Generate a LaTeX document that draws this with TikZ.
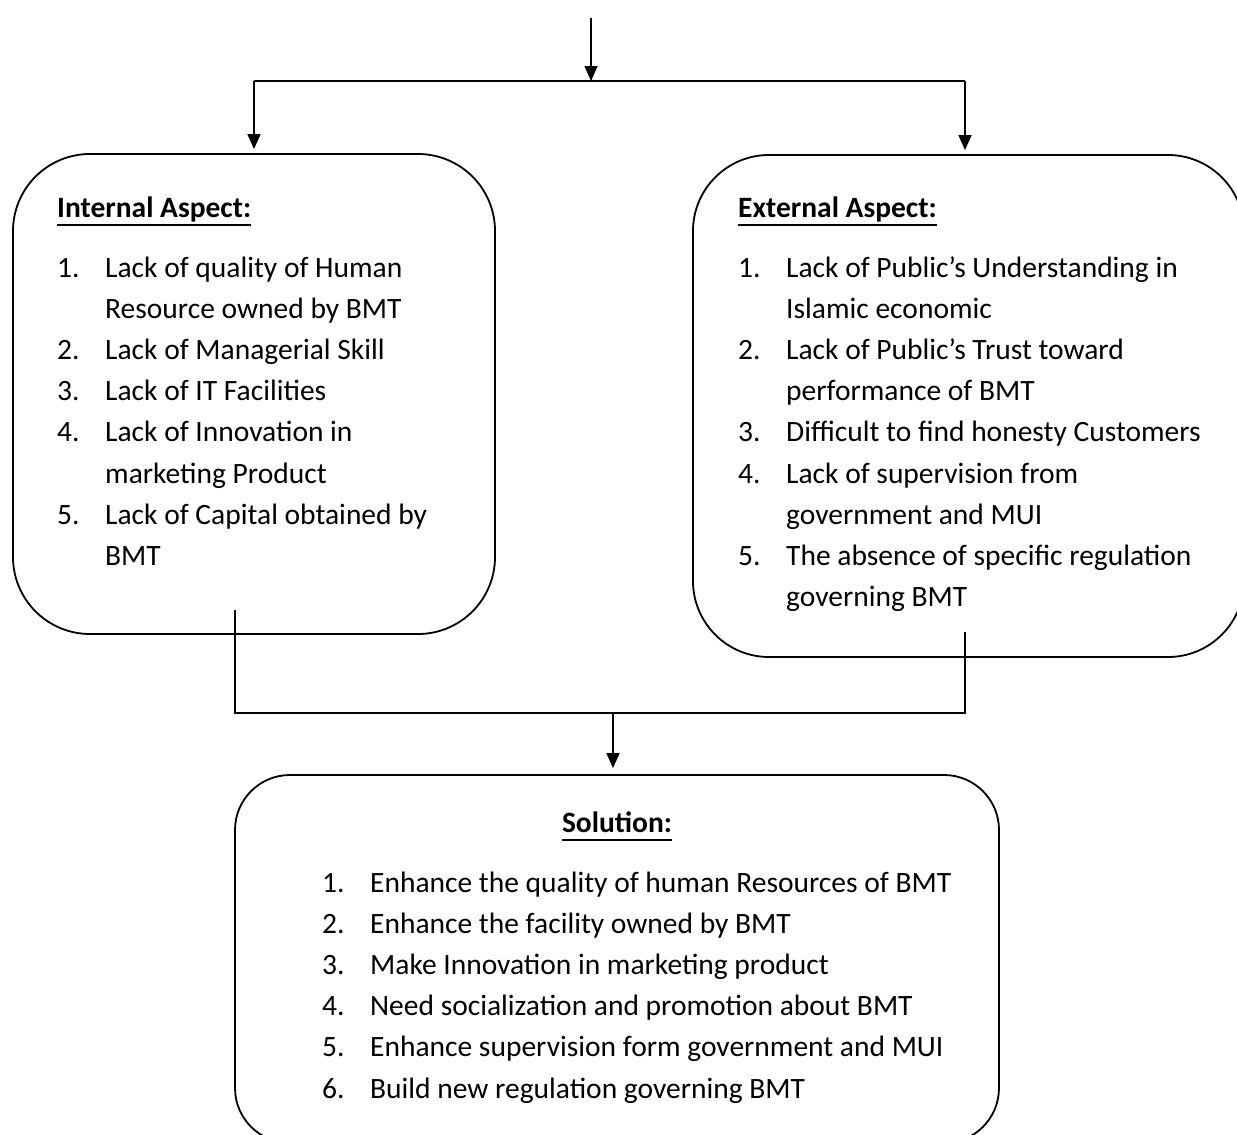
\documentclass[tikz,border=0pt]{standalone}
\usepackage{fontspec}
\setmainfont{Carlito}
\usetikzlibrary{arrows.meta}
\newcommand{\itm}[2]{\makebox[48pt][l]{#1}#2}
\newcommand{\cnt}[1]{\hspace*{48pt}#1}
\newcommand{\ulhead}[1]{\setbox0\hbox{\bfseries #1}\rlap{\rule[-9pt]{\wd0}{2pt}}\box0}
\begin{document}
\begin{tikzpicture}[x=1pt,y=-1pt,
  box/.style={draw, line width=1.8pt, inner sep=0pt},
  txt/.style={font=\fontsize{29.5}{41.2}\selectfont, align=left, inner sep=0pt, anchor=base west},
  head/.style={font=\fontsize{29.5}{41.2}\selectfont, inner sep=0pt},
  conn/.style={line width=1.5pt},
  arr/.style={line width=1.5pt, -{Triangle[length=15pt,width=13pt]}}]
\useasboundingbox (0,0) rectangle (1237,1135);
\clip (0,0) rectangle (1237,1135);
% boxes
\node[box, minimum width=482pt, minimum height=480pt, rounded corners=77pt] (inner) at (254,394) {};
\node[box, minimum width=551pt, minimum height=502pt, rounded corners=76pt] (outer) at (968.5,406) {};
\node[box, minimum width=764pt, minimum height=368pt, rounded corners=55pt] (sol) at (617,959) {};
% headings
\node[head, anchor=base west] (ih) at (57,217) {\ulhead{Internal Aspect:}};
\node[head, anchor=base west] (eh) at (738,217) {\ulhead{External Aspect:}};
\node[head, anchor=base] (sh) at (617,832) {\ulhead{Solution:}};
% lists (base anchor = baseline of last line)
\node[txt] (il) at (57,565.4) {\itm{1.}{Lack of quality of Human}\\
\cnt{Resource owned by BMT}\\
\itm{2.}{Lack of Managerial Skill}\\
\itm{3.}{Lack of IT Facilities}\\
\itm{4.}{Lack of Innovation in}\\
\cnt{marketing Product}\\
\itm{5.}{Lack of Capital obtained by}\\
\cnt{BMT}};
\node[txt] (el) at (738,606.6) {\itm{1.}{Lack of Public’s Understanding in}\\
\cnt{Islamic economic}\\
\itm{2.}{Lack of Public’s Trust toward}\\
\cnt{performance of BMT}\\
\itm{3.}{Difficult to find honesty Customers}\\
\itm{4.}{Lack of supervision from}\\
\cnt{government and MUI}\\
\itm{5.}{The absence of specific regulation}\\
\cnt{governing BMT}};
\node[txt] (sl) at (322,1098) {\itm{1.}{Enhance the quality of human Resources of BMT}\\
\itm{2.}{Enhance the facility owned by BMT}\\
\itm{3.}{Make Innovation in marketing product}\\
\itm{4.}{Need socialization and promotion about BMT}\\
\itm{5.}{Enhance supervision form government and MUI}\\
\itm{6.}{Build new regulation governing BMT}};
% connectors top
\coordinate (start) at (591,18);
\coordinate (split) at (591,81);
\coordinate (barL) at (254,81);
\coordinate (barR) at (965,81);
\draw[arr] (start) -- (split);
\draw[conn] (barL) -- (barR);
\draw[arr, shorten >=4pt] (barL) -- (barL |- inner.north);
\draw[arr, shorten >=4pt] (barR) -- (barR |- outer.north);
% connectors bottom
\coordinate (iout) at (235,610);
\coordinate (eout) at (965,632);
\coordinate (joinL) at (235,713);
\coordinate (joinR) at (965,713);
\coordinate (join) at (613,713);
\draw[conn] (iout) -- (joinL) -- (joinR) -- (eout);
\draw[arr, shorten >=6pt] (join) -- (join |- sol.north);
\end{tikzpicture}
\end{document}
